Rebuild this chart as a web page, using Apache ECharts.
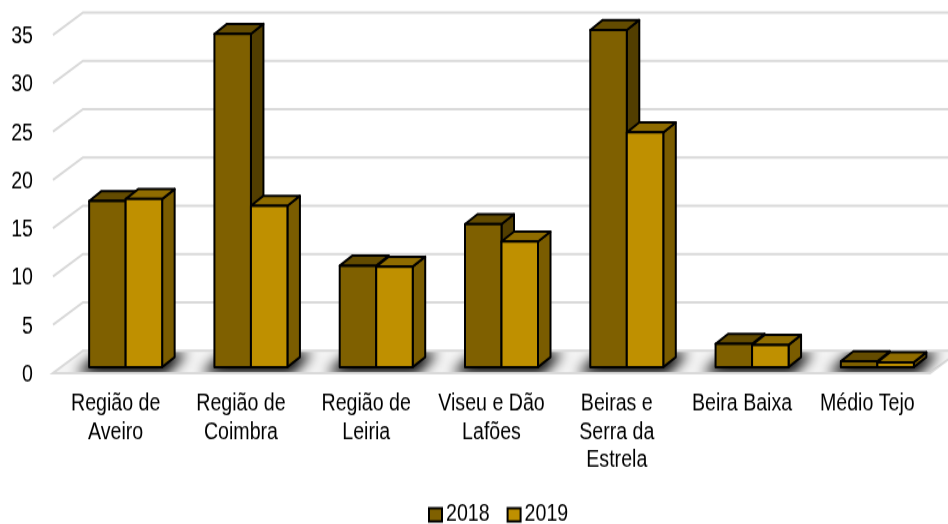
<!DOCTYPE html>
<html>
<head>
    <meta charset="UTF-8">
    <title></title>
    <script type="text/javascript" src="https://cdn.jsdelivr.net/npm/echarts@6/dist/echarts.min.js"></script>
    <style type="text/css">
        html, body { margin: 0; padding: 0; background: #fff; height: 524px; overflow: hidden; }
        /* the reference is a stretched picture, so draw at 5/6 height and stretch */
        #chart { width: 948px; height: 437px; transform: scaleY(1.2); transform-origin: 0 0; }
    </style>
</head>
<body>
<div id="chart"></div>
<script type="text/javascript">
    var categories = ['Região de\nAveiro', 'Região de\nCoimbra', 'Região de\nLeiria', 'Viseu e Dão\nLafões', 'Beiras e\nSerra da\nEstrela', 'Beira Baixa', 'Médio Tejo'];
    var values2018 = [17.2, 34.5, 10.5, 14.8, 34.9, 2.4, 0.6];
    var values2019 = [17.4, 16.7, 10.4, 13.0, 24.3, 2.3, 0.5];
    var wallTicks = [5, 10, 15, 20, 25, 30, 35];

    var font = '"Liberation Sans", Arial, sans-serif';
    var wallDx = 30, wallDy = -18.7;   // depth of the back wall
    var barDx = 10, barDy = -5;        // bars stand a bit behind the front edge
    var depthX = 12.5, depthY = -8.3;  // depth of one bar
    var barW = 36.5;
    var off = 3000;                    // shadow caster sits off canvas, only its blur shows

    function pts(list, fill) {
        return {
            type: 'polygon',
            shape: { points: list },
            style: { fill: fill, stroke: '#000', lineWidth: 2, lineJoin: 'round' }
        };
    }

    function barRender(offset, front, top, side) {
        return function (params, api) {
            var base = api.coord([api.value(0), 0]);
            var head = api.coord([api.value(0), api.value(1)]);
            var x0 = base[0] + barDx + offset, x1 = x0 + barW;
            var y0 = base[1] + barDy, y1 = head[1] + barDy;
            return {
                type: 'group',
                children: [
                    pts([[x1, y1], [x1 + depthX, y1 + depthY], [x1 + depthX, y0 + depthY], [x1, y0]], side),
                    pts([[x0, y1], [x0 + depthX, y1 + depthY], [x1 + depthX, y1 + depthY], [x1, y1]], top),
                    pts([[x0, y1], [x1, y1], [x1, y0], [x0, y0]], front)
                ]
            };
        };
    }

    function wallRender(params, api) {
        var p = api.coord([0, api.value(0)]);
        var cs = params.coordSys;
        var x = cs.x, y = p[1];
        return {
            type: 'polyline',
            shape: { points: [[x, y], [x + wallDx, y + wallDy], [x + cs.width + wallDx, y + wallDy]] },
            style: { fill: null, stroke: '#d9d9d9', lineWidth: 2 },
            silent: true
        };
    }

    function floorRender(params, api) {
        var cs = params.coordSys;
        var y = api.coord([0, 0])[1];
        var x = cs.x, w = cs.width;
        return {
            type: 'polygon',
            shape: { points: [[x, y], [x + wallDx, y + wallDy], [x + w + wallDx, y + wallDy], [x + w, y]] },
            style: { fill: '#f4f4f4', stroke: '#d9d9d9', lineWidth: 2 },
            silent: true
        };
    }

    function shadowRender(params, api) {
        var cs = params.coordSys;
        var c = api.coord([api.value(0), 0]);
        var y = c[1], cx = c[0] + barDx;
        var x = cs.x, w = cs.width;
        return {
            type: 'polygon',
            shape: { points: [
                [cx - barW - 14 - off, y + 1],
                [cx - barW + 10 - off, y - 17],
                [cx + barW + 26 - off, y - 17],
                [cx + barW + 4 - off, y + 1]
            ] },
            style: { fill: '#000', shadowBlur: 12, shadowColor: '#000', shadowOffsetX: off },
            clipPath: {
                type: 'polygon',
                shape: { points: [[x + 1, y - 1], [x + wallDx, y + wallDy + 1], [x + w + wallDx, y + wallDy + 1], [x + w, y - 1]] }
            },
            silent: true
        };
    }

    function toPairs(arr) {
        return arr.map(function (v, i) { return [i, v]; });
    }

    var chart = echarts.init(document.getElementById('chart'), null, { renderer: 'canvas' });
    chart.setOption({
        animation: false,
        backgroundColor: '#fff',
        textStyle: { fontFamily: font },
        grid: { left: 53, width: 877, top: 29.2, height: 281.7, containLabel: false },
        legend: {
            data: ['2018', '2019'],
            bottom: -7,
            left: 423,
            icon: 'rect',
            itemWidth: 13,
            itemHeight: 11,
            itemGap: 17,
            textStyle: { fontFamily: font, fontSize: 19.6, color: '#000', padding: [0, 0, 0, -1] }
        },
        xAxis: {
            type: 'category',
            data: categories,
            axisLine: { show: false },
            axisTick: { show: false },
            axisLabel: { interval: 0, margin: 14.5, fontFamily: font, fontSize: 19.6, lineHeight: 23.3, color: '#000' }
        },
        yAxis: {
            type: 'value',
            min: 0,
            max: 35,
            interval: 5,
            splitLine: { show: false },
            axisLine: { show: false },
            axisTick: { show: false },
            axisLabel: { margin: 20, fontFamily: font, fontSize: 19.6, color: '#000', verticalAlign: 'top', lineHeight: 3 }
        },
        series: [
            { name: 'floor', type: 'custom', renderItem: floorRender, data: [[0]], encode: { y: 0 }, clip: false, z: 1 },
            { name: 'wall', type: 'custom', renderItem: wallRender, data: wallTicks.map(function (v) { return [v]; }), encode: { y: 0 }, clip: false, z: 1 },
            { name: 'shadow', type: 'custom', renderItem: shadowRender, data: categories.map(function (c, i) { return [i]; }), encode: { x: 0 }, clip: false, z: 2 },
            {
                name: '2018', type: 'custom', data: toPairs(values2018), encode: { x: 0, y: 1 }, clip: false, z: 3,
                renderItem: barRender(-barW, '#7f6000', '#634b00', '#523e00'),
                itemStyle: { color: '#7f6000', borderColor: '#000', borderWidth: 1.6 }
            },
            {
                name: '2019', type: 'custom', data: toPairs(values2019), encode: { x: 0, y: 1 }, clip: false, z: 3,
                renderItem: barRender(0, '#bf9000', '#8f6c00', '#7a5c00'),
                itemStyle: { color: '#bf9000', borderColor: '#000', borderWidth: 1.6 }
            }
        ]
    });
</script>
</body>
</html>
